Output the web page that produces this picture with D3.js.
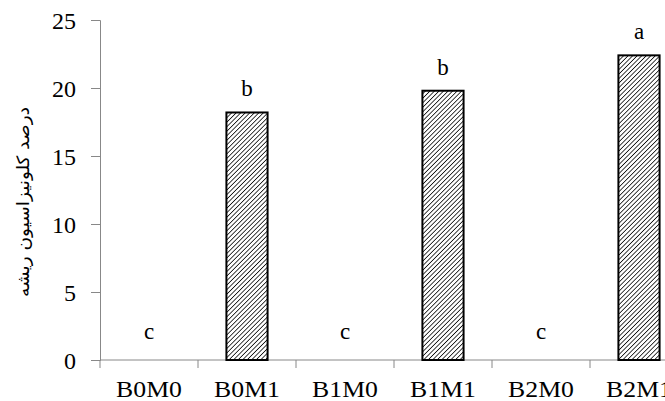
<!DOCTYPE html>
<html><head><meta charset="utf-8">
<script src="https://cdn.jsdelivr.net/npm/d3@7"></script>
<style>body{margin:0;background:#fff}svg{display:block}
.serif{font-family:"Liberation Serif","Times New Roman",serif}</style>
</head><body>
<script>
const categories = ["B0M0","B0M1","B1M0","B1M1","B2M0","B2M1"];
const values = [0, 18.2, 0, 19.8, 0, 22.4];
const letters = ["c","b","c","b","c","a"];
const yTicks = [0,5,10,15,20,25];
const yTitle = "درصد کلونیزاسیون ریشه";

const W = 665, H = 401;
const svg = d3.select("body").append("svg").attr("width", W).attr("height", H);
const defs = svg.append("defs");
const pat = defs.append("pattern").attr("id","hatch").attr("patternUnits","userSpaceOnUse")
  .attr("width",3.2).attr("height",3.2).attr("patternTransform","rotate(45)");
pat.append("rect").attr("width",3.2).attr("height",3.2).attr("fill","#fff");
pat.append("line").attr("x1",0).attr("y1",0).attr("x2",0).attr("y2",3.2)
  .attr("stroke","#000").attr("stroke-width",1.5);

const x = d3.scaleBand().domain(categories).range([100, 688]).paddingInner(0.58).paddingOuter(0.29);
const xAxisScale = d3.scalePoint().domain(d3.range(7)).range([100, 688]);
const y = d3.scaleLinear().domain([0,25]).range([360, 20]);

// y axis
const ya = svg.append("g").attr("transform","translate(100,0)")
  .call(d3.axisLeft(y).tickValues(yTicks).tickSize(9).tickPadding(15));
ya.attr("font-family",null);
ya.select(".domain").attr("stroke","#888").attr("stroke-width",1);
ya.selectAll(".tick line").attr("stroke","#888");
ya.selectAll(".tick text").attr("class","serif").attr("font-size",24).attr("fill","#000").attr("dy","0.34em");

// x axis
const xg = svg.append("g");
xg.append("line").attr("x1",100).attr("x2",688).attr("y1",360).attr("y2",360).attr("stroke","#888");
xg.selectAll("line.t").data(d3.range(7)).enter().append("line").attr("class","t")
  .attr("x1",d=>xAxisScale(d)).attr("x2",d=>xAxisScale(d)).attr("y1",360).attr("y2",368).attr("stroke","#888");
xg.selectAll("text").data(categories).enter().append("text").attr("class","serif")
  .attr("transform",d=>`translate(${x(d)+x.bandwidth()/2},397) scale(1.12,1)`).attr("text-anchor","middle")
  .attr("font-size",23).text(d=>d);

// bars
svg.selectAll("rect.bar").data(categories.map((c,i)=>({c,v:values[i]})).filter(d=>d.v>0))
  .enter().append("rect").attr("class","bar")
  .attr("x",d=>x(d.c)).attr("width",x.bandwidth())
  .attr("y",d=>y(d.v)).attr("height",d=>y(0)-y(d.v))
  .attr("fill","url(#hatch)").attr("stroke","#000").attr("stroke-width",2);

// letters
svg.selectAll("text.lab").data(categories).enter().append("text").attr("class","serif")
  .attr("x",d=>x(d)+x.bandwidth()/2)
  .attr("y",(d,i)=> values[i] > 0 ? y(values[i]) - 16 : 339)
  .attr("text-anchor","middle").attr("font-size",23)
  .text((d,i)=>letters[i]);

// y title
svg.append("text").attr("transform","translate(29,202) rotate(-90)").attr("text-anchor","middle")
  .attr("font-family","'DejaVu Sans', sans-serif").attr("font-size",17).attr("direction","rtl")
  .attr("textLength",190).attr("lengthAdjust","spacingAndGlyphs").text(yTitle);
</script>
</body></html>
